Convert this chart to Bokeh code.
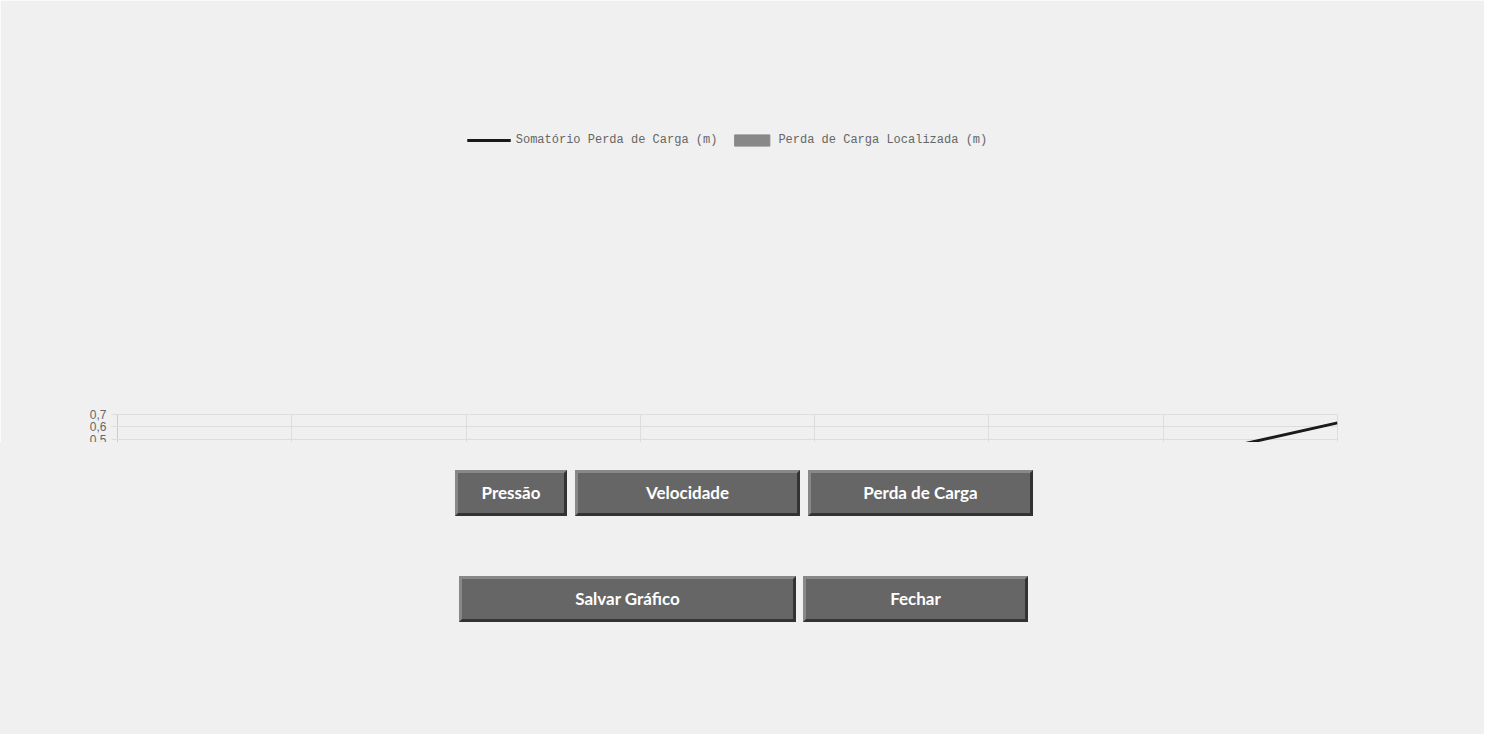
from bokeh.plotting import figure
from bokeh.models import Legend, LegendItem, Div, ColumnDataSource, FixedTicker, Range1d
from bokeh.layouts import column
from bokeh.embed import file_html
from bokeh.resources import INLINE

categories = ["Início", "Tubulação 3m", "Joelho", "Tubulação 5m", "Joelho", "Redução", "Tubulação 1m", "Válvula de Retenção"]
cumulative = [0.0, 0.048, 0.103, 0.19, 0.245, 0.27, 0.313, 0.632]
local = [0.0, 0.05, 0.053, 0.083, 0.053, 0.025, 0.043, 0.315]
y_ticks = [0, 0.1, 0.2, 0.3, 0.4, 0.5, 0.6, 0.7]
y_labels = ["0", "0,1", "0,2", "0,3", "0,4", "0,5", "0,6", "0,7"]
buttons_row1 = ["Pressão", "Velocidade", "Perda de Carga"]
buttons_row2 = ["Salvar Gráfico", "Fechar"]

idx = list(range(len(categories)))
src = ColumnDataSource(dict(x=idx, cum=cumulative, loc=local))

p = figure(width=1484, height=442, output_backend="svg", toolbar_location=None,
           x_range=Range1d(0, 7), y_range=Range1d(0, 0.7),
           min_border_left=117, min_border_right=147, min_border_top=0, min_border_bottom=0,
           background_fill_color="#f0f0f0", border_fill_color="#f0f0f0", outline_line_color="#dddddd")
bars = p.vbar(x="x", top="loc", width=0.72, source=src, color="#888888")
line = p.line(x="x", y="cum", source=src, line_color="#1a1a1a", line_width=3)

p.xaxis.ticker = FixedTicker(ticks=idx)
p.xaxis.major_label_overrides = {i: c for i, c in zip(idx, categories)}
p.yaxis.ticker = FixedTicker(ticks=y_ticks)
p.yaxis.major_label_overrides = {t: l for t, l in zip(y_ticks, y_labels)}
for ax in (p.xaxis, p.yaxis):
    ax.major_label_text_font = "Liberation Sans"
    ax.major_label_text_font_size = "12px"
    ax.major_label_text_color = "#666666"
    ax.axis_line_color = "#cccccc"
    ax.major_tick_line_color = "#dddddd"
    ax.minor_tick_line_color = None
p.xaxis.fixed_location = None
p.grid.grid_line_color = "#dddddd"

legend = Legend(items=[LegendItem(label="Somatório Perda de Carga (m)", renderers=[line]),
                       LegendItem(label="Perda de Carga Localizada (m)", renderers=[bars])],
                orientation="horizontal", location="bottom_center",
                label_text_font="Liberation Mono", label_text_font_size="12px",
                label_text_color="#666666", background_fill_alpha=0, border_line_color=None,
                glyph_width=44, glyph_height=14, spacing=12, margin=0, padding=4)
p.add_layout(legend, "above")
p.min_border_top = 100

def btn(text, left, top, w):
    return (f'<div style="position:absolute;left:{left}px;top:{top}px;width:{w}px;height:46px;'
            f'background:#666666;color:#ffffff;font-family:Lato,sans-serif;font-weight:bold;font-size:17px;'
            f'display:flex;align-items:center;justify-content:center;box-sizing:border-box;'
            f'border-top:3px solid #888;border-left:3px solid #888;border-right:3px solid #333;border-bottom:3px solid #333;">{text}</div>')

html = '<div style="position:relative;width:1484px;height:292px;background:#f0f0f0;">'
html += btn(buttons_row1[0], 463 - 8, 470 - 442, 112)
html += btn(buttons_row1[1], 583 - 8, 470 - 442, 225)
html += btn(buttons_row1[2], 816 - 8, 470 - 442, 225)
html += btn(buttons_row2[0], 467 - 8, 576 - 442, 337)
html += btn(buttons_row2[1], 811 - 8, 576 - 442, 225)
html += '</div>'
d = Div(text=html, width=1484, height=292, margin=0)

layout = column(p, d, spacing=0)
open("out.html", "w").write(file_html(layout, INLINE))
